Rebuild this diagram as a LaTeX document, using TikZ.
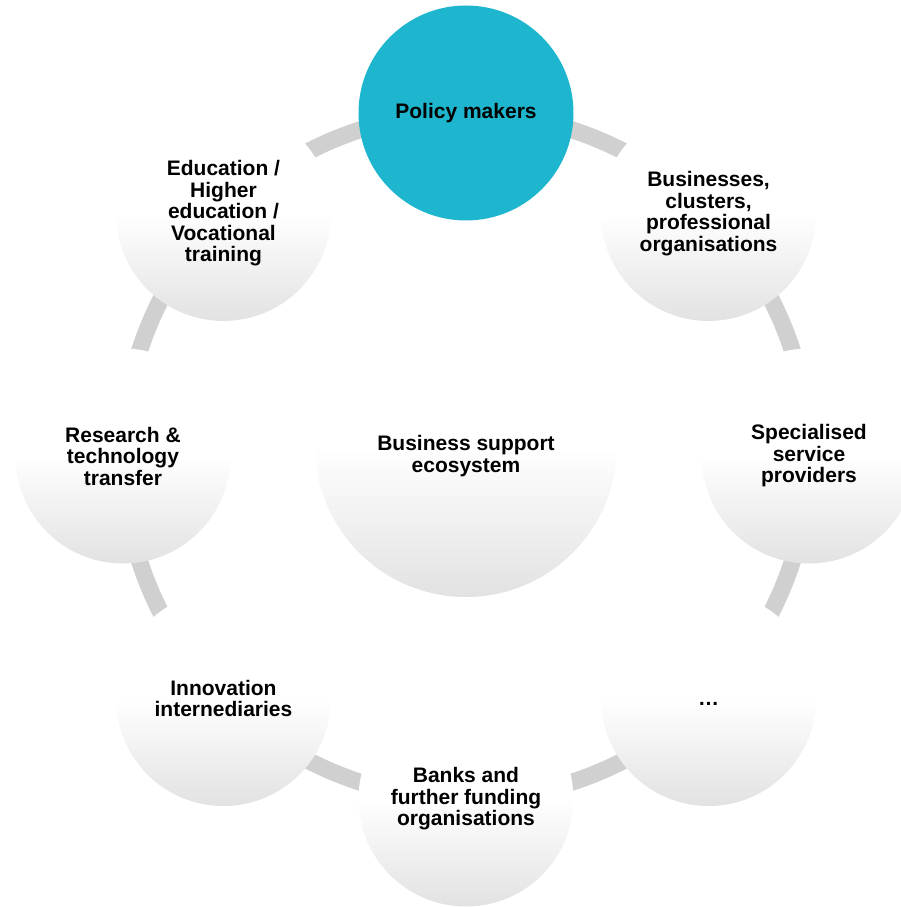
\documentclass[tikz,border=0pt]{standalone}
\usepackage{fontspec}
\setmainfont{Liberation Sans}
\usetikzlibrary{backgrounds}
\definecolor{policyblue}{HTML}{1EB6CE}
\definecolor{ringgray}{HTML}{D0D0D0}
\definecolor{shadegray}{HTML}{E2E2E2}

\begin{document}
\begin{tikzpicture}[x=1pt,y=1pt,
                    main node/.style={circle,minimum size=215pt,inner sep=0pt,align=center,
                                      font=\bfseries\fontsize{21}{21.5}\selectfont},
                    soft/.style={top color=white,bottom color=shadegray,middle color=white},
                    ring/.style={ringgray,line width=17pt}]

  \useasboundingbox (-466,-451) rectangle (435,456);

  \node[main node,soft,minimum size=302pt] (0) at (0,10) {};
  \node[main node,minimum size=0pt] (0t) at (0,0) {Business support\\ecosystem};

  \node[main node,fill=policyblue] (1) at (90:343) {Policy makers};
  \node[main node,soft] (2) at (45:343) {Businesses,\\clusters,\\professional\\organisations};
  \node[main node,soft] (3) at (0:343) {Specialised\\service\\providers};
  \node[main node,soft] (4) at (-45:343) {\vphantom{A}…};
  \node[main node,soft] (5) at (-90:343) {Banks and\\further funding\\organisations};
  \node[main node,soft] (6) at (-135:343) {Innovation\\internediaries};
  \node[main node,soft] (7) at (180:343) {Research \&\\technology\\transfer};
  \node[main node,soft] (8) at (135:343) {Education /\\Higher\\education /\\Vocational\\training};

  \begin{scope}[on background layer,every to/.style={bend left=22.5,looseness=0.885}]
    \draw[ring] (1.center) to (2.center) to (3.center) to (4.center) to (5.center)
                to (6.center) to (7.center) to (8.center) to (1.center);
  \end{scope}

\end{tikzpicture}
\end{document}
